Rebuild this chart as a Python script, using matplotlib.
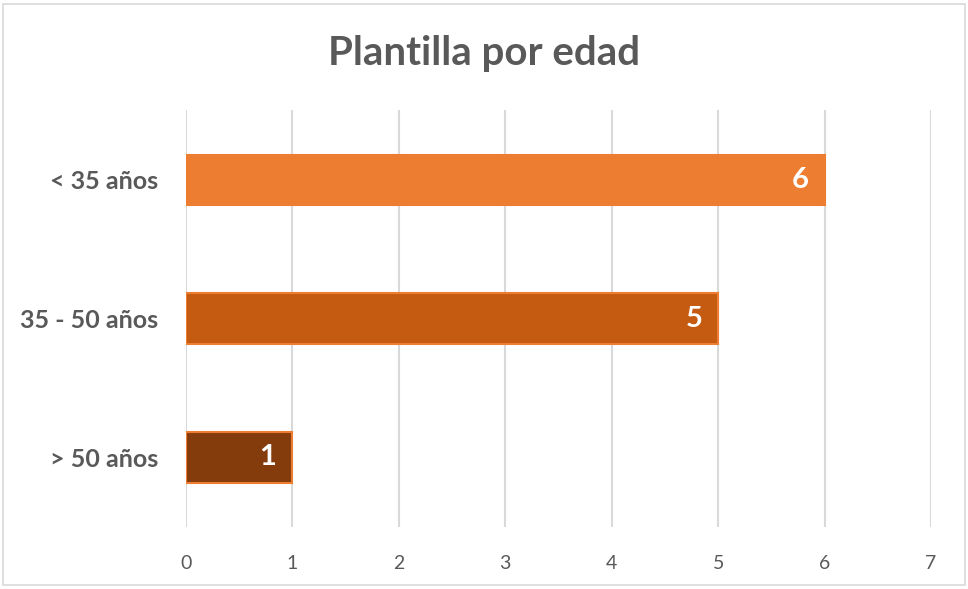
import matplotlib.pyplot as plt
from matplotlib.patches import Rectangle

categories = ['> 50 años', '35 - 50 años', '< 35 años']
counts = [1, 5, 6]
bar_colors = ['#843C0C', '#C55A11', '#ED7D31']
edge_colors = ['#ED7D31', '#ED7D31', '#ED7D31']

plt.rcParams['font.family'] = ['Lato', 'DejaVu Sans']

fig = plt.figure(figsize=(9.68, 5.89), dpi=100)
ax = fig.add_axes([0.1921, 0.1053, 0.7697, 0.7079])

bars = ax.barh(range(len(categories)), counts, height=0.36,
               color=bar_colors, edgecolor=edge_colors, linewidth=1.5, zorder=3)

for bar, val in zip(bars, counts):
    ax.text(bar.get_width() - 0.15, bar.get_y() + bar.get_height() / 2, str(val),
            ha='right', va='center', color='white', fontsize=21, fontweight='bold', zorder=4)

ax.set_xlim(0, 7)
ax.set_ylim(-0.5, 2.5)
ax.set_xticks(range(8))
ax.set_yticks(range(len(categories)))
ax.set_yticklabels(categories, fontsize=18, fontweight='bold', color='#595959')
ax.tick_params(axis='x', labelsize=14, colors='#595959', length=0, pad=20)
ax.tick_params(axis='y', length=0, pad=20)

ax.grid(axis='x', color='#D9D9D9', linewidth=1.5, zorder=0)
for s in ax.spines.values():
    s.set_visible(False)

fig.text(0.5, 0.91, 'Plantilla por edad', ha='center', va='center',
         fontsize=29, fontweight='bold', color='#595959')

# outer chart frame
fig.patches.append(Rectangle((0.003, 0.007), 0.994, 0.986, transform=fig.transFigure,
                             fill=False, edgecolor='#D9D9D9', linewidth=1.2))

fig.savefig('out.png', dpi=100)
